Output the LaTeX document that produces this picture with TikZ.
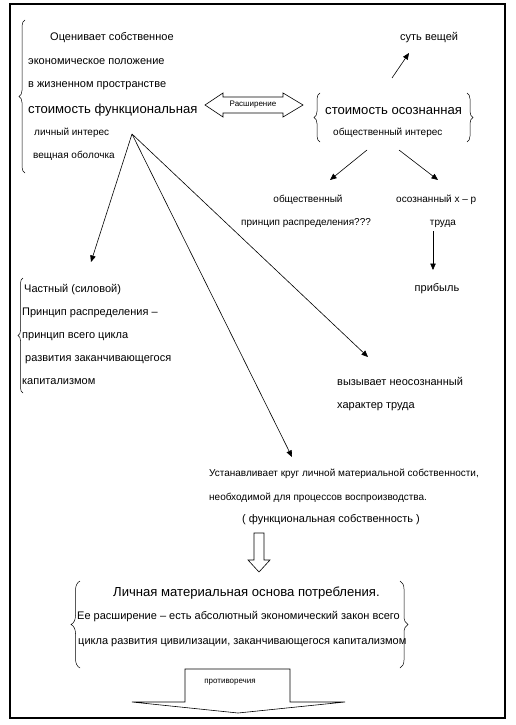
\documentclass[tikz,border=0pt]{standalone}
\usepackage{fontspec}
\setmainfont{Liberation Sans}
\usetikzlibrary{arrows.meta,decorations.pathreplacing}
\begin{document}
\begin{tikzpicture}[x=1pt,y=-1pt,
  sm/.style={font=\fontsize{11}{12}\selectfont, inner sep=0pt, anchor=base west},
  smc/.style={font=\fontsize{11}{12}\selectfont, inner sep=0pt, anchor=base},
  xs/.style={font=\fontsize{10}{11}\selectfont, inner sep=0pt, anchor=base west},
  xsc/.style={font=\fontsize{10}{11}\selectfont, inner sep=0pt, anchor=base},
  bg/.style={font=\fontsize{13.1}{15}\selectfont, inner sep=0pt, anchor=base west},
  tn/.style={font=\fontsize{8}{9}\selectfont, inner sep=0pt, anchor=base},
  conn/.style={line width=0.6pt, -{Triangle[length=6.5pt,width=5.5pt]}},
  brc/.style={line width=0.5pt, decorate, decoration={brace, amplitude=#1}},
  hollow/.style={draw, line width=0.6pt, fill=white, line join=miter}]
\useasboundingbox (0,0) rectangle (515,725);
\fill[white] (0,0) rectangle (515,725);
% frame
\draw[line width=1.3pt] (10,4) rectangle (505,718);

% top-left group
\node[sm] (t1) at (50,40.5) {Оценивает собственное};
\node[sm] (t2) at (28,64.5) {экономическое положение};
\node[sm] (t3) at (28,87.5) {в жизненном пространстве};
\node[bg] (t4) at (28,113.5) {стоимость функциональная};
\node[xs] (t5) at (34,135.5) {личный интерес};
\node[xs] (t6) at (33,158.5) {вещная оболочка};
\coordinate (bl1) at (25,173);
\coordinate (bl2) at (25,20);
\draw[brc=6pt] (bl1) -- (bl2);

% double arrow
\draw[hollow] (205,105) -- (223,93) -- (223,97) -- (283,97) -- (283,93) -- (303,105)
  -- (283,117) -- (283,113) -- (223,113) -- (223,117) -- cycle;
\node[tn] (ext) at (253,106) {Расширение};

% right group
\node[bg] (r1) at (325,114.5) {стоимость осознанная};
\node[xs] (r2) at (333,135.5) {общественный интерес};
\coordinate (br1) at (320,142);
\coordinate (br2) at (320,93);
\draw[brc=6pt] (br1) -- (br2);
\coordinate (br3) at (467,93);
\coordinate (br4) at (467,142);
\draw[brc=6pt] (br3) -- (br4);

\node[sm] (sut) at (400,40.5) {суть вещей};
\coordinate (s0) at (392,78);
\coordinate (s1) at (409,53);
\draw[conn] (s0) -- (s1);

\coordinate (a0) at (367,150);
\coordinate (a1) at (330,180);
\draw[conn] (a0) -- (a1);
\coordinate (b0) at (399,150);
\coordinate (b1) at (438,180);
\draw[conn] (b0) -- (b1);

\node[xsc] (o1) at (308,202.5) {общественный};
\node[xs] (o2) at (241,225.5) {принцип распределения???};
\node[xs] (p1) at (396,202.5) {осознанный х – р};
\node[xsc] (p2) at (443,225.5) {труда};
\coordinate (c0) at (433,231);
\coordinate (c1) at (433,270);
\draw[conn] (c0) -- (c1);
\node[smc] (prib) at (437,291.5) {прибыль};

% apex lines
\coordinate (apex) at (132,134);
\coordinate (e1) at (91,262);
\coordinate (e2) at (368,357);
\coordinate (e3) at (292,457);
\draw[conn] (apex) -- (e1);
\draw[conn] (apex) -- (e2);
\draw[conn] (apex) -- (e3);

% left-bottom group
\node[sm] (l1) at (24,292.5) {Частный (силовой)};
\node[sm] (l2) at (22,315.5) {Принцип распределения –};
\node[sm] (l3) at (22,338.5) {принцип всего цикла};
\node[sm] (l4) at (25,361.5) {развития заканчивающегося};
\node[sm] (l5) at (22,384.5) {капитализмом};
\coordinate (bb1) at (23,393);
\coordinate (bb2) at (23,278);
\draw[brc=5pt] (bb1) -- (bb2);

\node[sm] (v1) at (337,385.5) {вызывает неосознанный};
\node[sm] (v2) at (337,408.5) {характер труда};

\node[xs] (u1) at (209,476.5) {Устанавливает круг личной материальной собственности,};
\node[xs] (u2) at (209,500.5) {необходимой для процессов воспроизводства.};
\node[sm] (u3) at (242,522.5) {( функциональная собственность )};

% small hollow down arrow
\draw[hollow] (254,533) -- (264,533) -- (264,560) -- (270,560) -- (259,572) -- (248,560) -- (254,560) -- cycle;

% bottom group
\node[bg] (m1) at (113,596.5) {Личная материальная основа потребления.};
\node[sm] (m2) at (77,619) {Ее расширение – есть абсолютный экономический закон всего};
\node[sm] (m3) at (78,644) {цикла развития цивилизации, заканчивающегося капитализмом};
\coordinate (mb1) at (80,668);
\coordinate (mb2) at (80,581);
\draw[brc=9pt] (mb1) -- (mb2);
\coordinate (mb3) at (400,581);
\coordinate (mb4) at (400,668);
\draw[brc=8pt] (mb3) -- (mb4);

% big arrow
\draw[hollow] (185,702) -- (185,669) -- (290,669) -- (290,702) -- (345,702) -- (238,713) -- (132,702) -- cycle;
\node[tn] (prot) at (230,683) {противоречия};
\end{tikzpicture}
\end{document}
